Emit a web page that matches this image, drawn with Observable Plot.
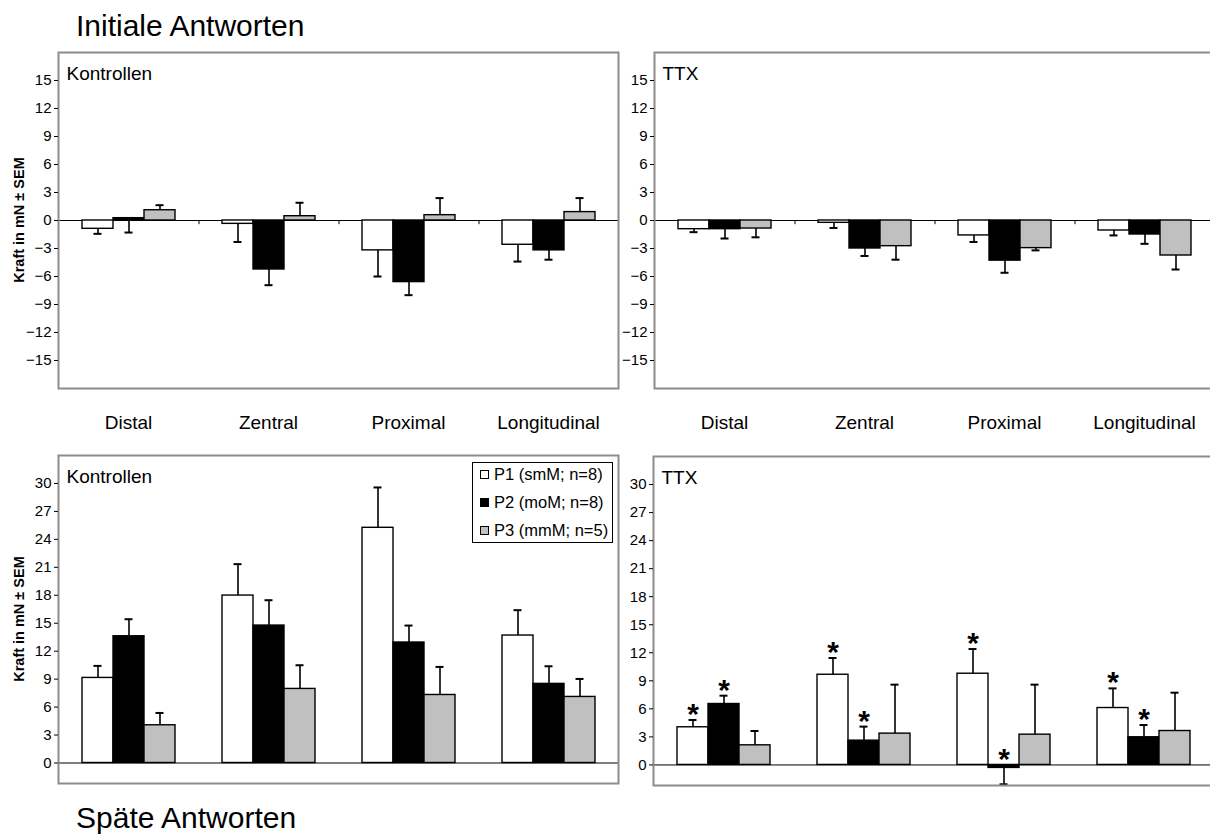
<!DOCTYPE html>
<html><head><meta charset="utf-8">
<script src="https://cdn.jsdelivr.net/npm/d3@7"></script>
<script src="https://cdn.jsdelivr.net/npm/@observablehq/plot@0.6"></script>
<style>
html,body{margin:0;padding:0;background:#fff;}
#wrap{position:relative;width:1210px;height:837px;overflow:hidden;font-family:"Liberation Sans",Arial,sans-serif;color:#000;}
.title{font-size:30px;white-space:nowrap;}
.ylab{font-size:14.5px;font-weight:bold;white-space:nowrap;transform:translate(-50%,-50%) rotate(-90deg);}
.legend{border:1px solid #000;background:#fff;box-sizing:border-box;}
.legrow{position:absolute;left:7px;font-size:16.5px;white-space:nowrap;line-height:20px;display:flex;align-items:center;}
.sw{width:9px;height:9px;border:1px solid #000;box-sizing:border-box;margin-right:5px;}
</style></head>
<body><div id="wrap"></div>
<script>
// ---- data ----
const categories = ["Distal", "Zentral", "Proximal", "Longitudinal"];
const series = ["P1 (smM; n=8)", "P2 (moM; n=8)", "P3 (mmM; n=5)"];
const seriesColors = ["#ffffff", "#000000", "#c0c0c0"];
const yTicksInitial = [-15, -12, -9, -6, -3, 0, 3, 6, 9, 12, 15];
const yTicksLate = [0, 3, 6, 9, 12, 15, 18, 21, 24, 27, 30];

// rows = categories, columns = series; SEM signed (direction the bar is drawn)
const initKontrollenMean = [[-0.89, 0.25, 1.1], [-0.36, -5.25, 0.46], [-3.2, -6.6, 0.57], [-2.6, -3.2, 0.9]];
const initKontrollenSem  = [[-0.54, -1.54, 0.54], [-1.94, -1.68, 1.44], [-2.8, -1.4, 1.83], [-1.8, -1.0, 1.5]];
const initTTXMean = [[-0.93, -0.93, -0.86], [-0.25, -3.0, -2.75], [-1.6, -4.3, -2.96], [-1.07, -1.5, -3.75]];
const initTTXSem  = [[-0.32, -1.0, -0.94], [-0.55, -0.8, -1.45], [-0.7, -1.3, -0.24], [-0.53, -1.0, -1.5]];
const lateKontrollenMean = [[9.13, 13.6, 4.05], [17.97, 14.75, 7.95], [25.24, 12.93, 7.3], [13.68, 8.49, 7.09]];
const lateKontrollenSem  = [[1.29, 1.83, 1.32], [3.37, 2.72, 2.54], [4.33, 1.82, 3.01], [2.72, 1.89, 1.93]];
const lateTTXMean = [[4.03, 6.52, 2.1], [9.65, 2.6, 3.35], [9.76, -0.32, 3.24], [6.09, 2.96, 3.63]];
const lateTTXSem  = [[0.78, 0.89, 1.53], [1.79, 1.5, 5.24], [2.64, -1.75, 5.35], [2.1, 1.31, 4.1]];
const lateTTXSignificant = [[1, 1, 0], [1, 1, 0], [1, 1, 0], [1, 1, 0]];

const titleTop = "Initiale Antworten";
const titleBottom = "Späte Antworten";
const yLabel = "Kraft in mN ± SEM";

function rowsOf(mean, sem, sig) {
  const out = [];
  categories.forEach((c, i) => series.forEach((s, j) => {
    out.push({cat: c, ser: s, mean: mean[i][j], err: mean[i][j] + sem[i][j], sig: sig ? sig[i][j] : 0});
  }));
  return out;
}

const FONT = '"Liberation Sans", Arial, sans-serif';

function panel({rows, name, yDomain, yTicks, height, marginTop, marginBottom, showFx}) {
  const marks = [
    Plot.ruleY([0], {stroke: "#000", strokeWidth: 1}),
    Plot.barY(rows, {fx: "cat", x: "ser", y: "mean", fill: "ser", stroke: "#000", strokeWidth: 1.4}),
    Plot.ruleX(rows, {fx: "cat", x: "ser", y1: "mean", y2: "err", stroke: "#000", strokeWidth: 1.6}),
    Plot.tickY(rows, {fx: "cat", x: "ser", y: "err", insetLeft: 11.5, insetRight: 11.5, stroke: "#000", strokeWidth: 2}),
    Plot.frame({facet: "super", stroke: "#8c8c8c", strokeWidth: 2}),
    Plot.text([name], {facet: "super", frameAnchor: "top-left", dx: 8, dy: 14, lineAnchor: "top", textAnchor: "start", fontSize: 19, fill: "#000"}),
    Plot.axisY({ticks: yTicks, tickSize: 4, tickPadding: 3, fontSize: 15, label: null, stroke: "#000"})
  ];
  const stars = rows.filter(d => d.sig);
  if (stars.length) {
    marks.push(Plot.text(stars, {fx: "cat", x: "ser", y: d => Math.max(d.err, 0), text: () => "*", fontSize: 30, fontWeight: "bold", lineAnchor: "bottom", dy: 4, fill: "#000"}));
  }
  if (showFx) {
    // small category-boundary ticks below the zero line
    marks.push(Plot.ruleX(categories.slice(1), {fx: d => d, x: () => series[0], y1: 0, y2: -0.45, dx: -39, stroke: "#000", strokeWidth: 1}));
    marks.push(Plot.axisFx({anchor: "bottom", tickSize: 0, tickPadding: 27, fontSize: 19, label: null}));
  }
  return Plot.plot({
    width: 620, height, marginLeft: 58, marginRight: 2, marginTop, marginBottom,
    style: {fontFamily: FONT, fontSize: "15px", color: "#000", background: "transparent", overflow: "visible"},
    fx: showFx ? {domain: categories, padding: 0, label: null} : {domain: categories, padding: 0, label: null, axis: null},
    x: {domain: series, paddingInner: 0, paddingOuter: 0.758, axis: null},
    y: {domain: yDomain, label: null},
    color: {domain: series, range: seriesColors},
    marks
  });
}

const wrap = document.getElementById("wrap");
function place(el, left, top) { el.style.position = "absolute"; el.style.left = left + "px"; el.style.top = top + "px"; wrap.appendChild(el); }

place(panel({rows: rowsOf(initKontrollenMean, initKontrollenSem), name: "Kontrollen", yDomain: [-18, 18], yTicks: yTicksInitial, height: 440, marginTop: 52, marginBottom: 52, showFx: true}), 0, 0);
place(panel({rows: rowsOf(initTTXMean, initTTXSem), name: "TTX", yDomain: [-18, 18], yTicks: yTicksInitial, height: 440, marginTop: 52, marginBottom: 52, showFx: true}), 596, 0);
place(panel({rows: rowsOf(lateKontrollenMean, lateKontrollenSem), name: "Kontrollen", yDomain: [-2.2, 33], yTicks: yTicksLate, height: 400, marginTop: 52, marginBottom: 20, showFx: false}), 0, 403);
place(panel({rows: rowsOf(lateTTXMean, lateTTXSem, lateTTXSignificant), name: "TTX", yDomain: [-2.2, 33], yTicks: yTicksLate, height: 402, marginTop: 53, marginBottom: 20, showFx: false}), 595, 403);

// titles
function html(tag, cls, text) { const e = document.createElement(tag); e.className = cls; e.textContent = text; return e; }
place(html("div", "title", titleTop), 76, 9);
place(html("div", "title", titleBottom), 76, 801);

// y labels
place(html("div", "ylab", yLabel), 19, 220);
place(html("div", "ylab", yLabel), 19, 619);

// legend
const leg = document.createElement("div");
leg.className = "legend";
leg.style.width = "141px"; leg.style.height = "81px";
series.forEach((s, j) => {
  const r = document.createElement("div");
  r.className = "legrow";
  r.style.top = (1 + 28 * j) + "px";
  const sw = document.createElement("span");
  sw.className = "sw"; sw.style.background = seriesColors[j];
  r.appendChild(sw);
  r.appendChild(document.createTextNode(s));
  leg.appendChild(r);
});
place(leg, 472, 462);
</script></body></html>
